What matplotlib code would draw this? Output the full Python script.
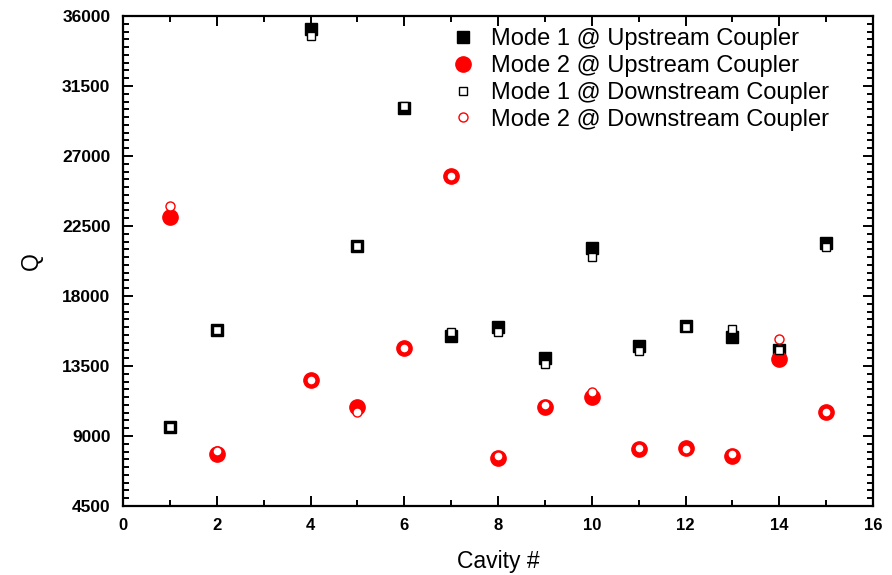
import matplotlib
matplotlib.use("Agg")
import matplotlib.pyplot as plt
from matplotlib.ticker import MultipleLocator

plt.rcParams['font.family'] = ['Liberation Sans', 'DejaVu Sans']

cavity = [1, 2, 4, 5, 6, 7, 8, 9, 10, 11, 12, 13, 14, 15]
mode1_up = [9580, 15810, 35150, 21210, 30060, 15430, 16030, 13990, 21070, 14790, 16070, 15350, 14530, 21390]
mode2_up = [23100, 7820, 12600, 10890, 14640, 25710, 7560, 10890, 11490, 8160, 8250, 7740, 13950, 10540]
mode1_down = [9580, 15810, 34710, 21210, 30190, 15670, 15710, 13630, 20530, 14460, 15990, 15860, 14530, 21150]
mode2_down = [23790, 8040, 12600, 10520, 14640, 25710, 7740, 10970, 11850, 8230, 8160, 7840, 15220, 10540]

labels = ["Mode 1 @ Upstream Coupler", "Mode 2 @ Upstream Coupler",
          "Mode 1 @ Downstream Coupler", "Mode 2 @ Downstream Coupler"]

fig = plt.figure(figsize=(8.92, 5.75), dpi=100)
ax = fig.add_axes([123/892, 1-506/575, 750/892, 490/575])

ax.plot(cavity, mode1_up, ls='none', marker='s', ms=9, color='black', mec='black', label=labels[0])
ax.plot(cavity, mode2_up, ls='none', marker='o', ms=11, color='red', mec='red', label=labels[1])
ax.plot(cavity, mode1_down, ls='none', marker='s', ms=6, mfc='white', mec='black', mew=1, label=labels[2])
ax.plot(cavity, mode2_down, ls='none', marker='o', ms=6.5, mfc='white', mec='red', mew=1, label=labels[3])

ax.set_xlim(0, 16)
ax.set_ylim(4500, 36000)
ax.xaxis.set_major_locator(MultipleLocator(2))
ax.xaxis.set_minor_locator(MultipleLocator(1))
ax.yaxis.set_major_locator(MultipleLocator(4500))
ax.yaxis.set_minor_locator(MultipleLocator(500))

for s in ax.spines.values():
    s.set_linewidth(1.6)
ax.tick_params(which='both', direction='in', top=True, right=True, width=1.4)
ax.tick_params(which='major', length=7, labelsize=12)
ax.tick_params(which='minor', length=4)
ax.tick_params(axis='x', which='major', pad=9)
ax.tick_params(axis='y', which='major', pad=9, labelsize=12.5)
for lab in ax.get_xticklabels() + ax.get_yticklabels():
    lab.set_fontweight('bold')

ax.set_xlabel("Cavity #", fontsize=16.5, labelpad=12)
ax.set_ylabel("Q", fontsize=16.5, labelpad=14)

ax.legend(loc='upper left', frameon=False, fontsize=17, labelspacing=0.2,
          handlelength=1.0, handletextpad=0.7, borderaxespad=0.0,
          bbox_to_anchor=(0.425, 0.994))

fig.savefig("out.png", dpi=100)
